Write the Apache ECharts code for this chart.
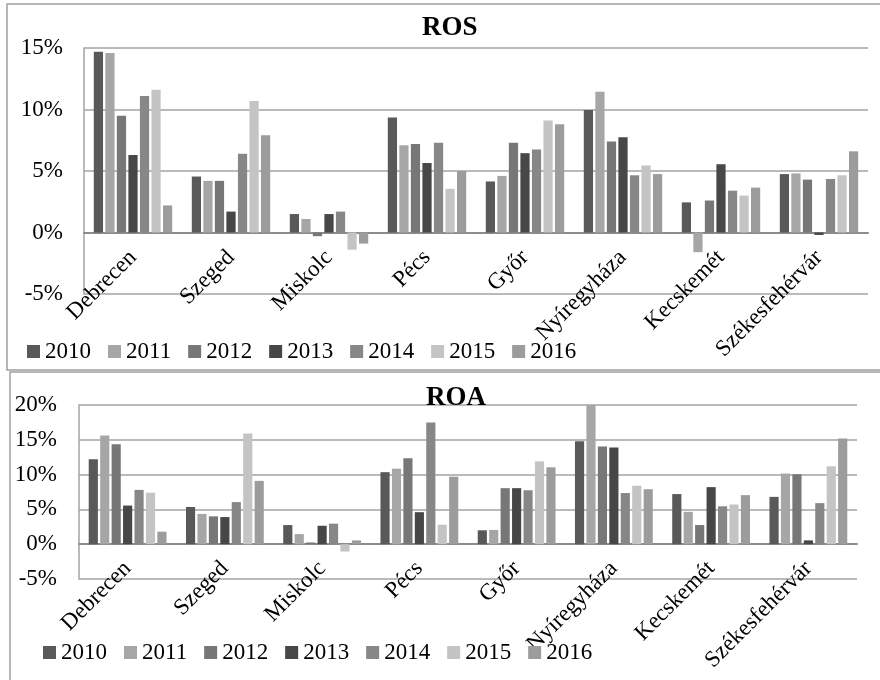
<!DOCTYPE html>
<html>
<head>
<meta charset="utf-8">
<script src="https://cdn.jsdelivr.net/npm/echarts@6/dist/echarts.min.js"></script>
<style>
html,body{margin:0;padding:0;background:#fff;}
#c{width:880px;height:680px;}
</style>
</head>
<body>
<div id="c"></div>
<script>
const categories = ['Debrecen','Szeged','Miskolc','Pécs','Győr','Nyíregyháza','Kecskemét','Székesfehérvár'];
const years = ['2010','2011','2012','2013','2014','2015','2016'];
const yearColors = ['#595959','#a6a6a6','#777777','#474747','#878787','#c4c4c4','#9c9c9c'];

// ROS values (%) per year, in category order
const ros2010 = [14.7, 4.55, 1.5, 9.35, 4.15, 9.95, 2.45, 4.75];
const ros2011 = [14.6, 4.2, 1.1, 7.1, 4.6, 11.45, -1.6, 4.8];
const ros2012 = [9.5, 4.2, -0.3, 7.2, 7.3, 7.4, 2.6, 4.3];
const ros2013 = [6.3, 1.7, 1.5, 5.65, 6.45, 7.75, 5.55, -0.2];
const ros2014 = [11.1, 6.4, 1.7, 7.3, 6.75, 4.65, 3.4, 4.35];
const ros2015 = [11.6, 10.7, -1.4, 3.55, 9.1, 5.45, 3.0, 4.65];
const ros2016 = [2.2, 7.9, -0.9, 5.0, 8.8, 4.75, 3.65, 6.6];

// ROA values (%) per year, in category order
const roa2010 = [12.2, 5.35, 2.75, 10.35, 2.0, 14.8, 7.2, 6.8];
const roa2011 = [15.6, 4.35, 1.45, 10.85, 2.05, 20.0, 4.65, 10.15];
const roa2012 = [14.35, 4.0, 0.25, 12.35, 8.05, 14.05, 2.75, 10.05];
const roa2013 = [5.55, 3.9, 2.65, 4.6, 8.05, 13.9, 8.2, 0.55];
const roa2014 = [7.8, 6.05, 2.95, 17.5, 7.75, 7.35, 5.45, 5.9];
const roa2015 = [7.4, 15.9, -1.05, 2.8, 11.9, 8.4, 5.7, 11.2];
const roa2016 = [1.8, 9.1, 0.55, 9.7, 11.05, 7.9, 7.05, 15.2];

const rosTicks = {min: -5, max: 15, interval: 5};
const roaTicks = {min: -5, max: 20, interval: 5};

const rosSeriesData = [ros2010, ros2011, ros2012, ros2013, ros2014, ros2015, ros2016];
const roaSeriesData = [roa2010, roa2011, roa2012, roa2013, roa2014, roa2015, roa2016];

const FONT = 'Liberation Serif';
const GRID_COLOR = '#a3a3a3';

function xAxisFor(gridIndex, labelMargin) {
  return {
    type: 'category', gridIndex: gridIndex, data: categories,
    axisLine: {show: true, onZero: true, lineStyle: {color: '#8c8c8c', width: 2}},
    axisTick: {show: false},
    axisLabel: {interval: 0, rotate: 45, margin: labelMargin, fontFamily: FONT, fontSize: 23, color: '#000'},
    splitLine: {show: false}
  };
}
function yAxisFor(gridIndex, t, margin) {
  return {
    type: 'value', gridIndex: gridIndex, min: t.min, max: t.max, interval: t.interval,
    axisLine: {show: true, lineStyle: {color: GRID_COLOR, width: 1.5}},
    axisTick: {show: false},
    axisLabel: {formatter: '{value}%', margin: margin, fontFamily: FONT, fontSize: 23, color: '#000'},
    splitLine: {show: true, lineStyle: {color: GRID_COLOR, width: 1.5}}
  };
}

const series = [];
years.forEach((y, i) => {
  series.push({
    name: y, type: 'bar', xAxisIndex: 0, yAxisIndex: 0, data: rosSeriesData[i],
    itemStyle: {color: yearColors[i]}, barGap: '25%', barCategoryGap: '20%'
  });
});
years.forEach((y, i) => {
  series.push({
    name: y, type: 'bar', xAxisIndex: 1, yAxisIndex: 1, data: roaSeriesData[i],
    itemStyle: {color: yearColors[i]}, barGap: '25%', barCategoryGap: '20%'
  });
});

const legendCommon = {
  data: years, icon: 'rect', itemWidth: 13, itemHeight: 13, itemGap: 17,
  textStyle: {fontFamily: FONT, fontSize: 23, color: '#000'}, selectedMode: false
};

const chart = echarts.init(document.getElementById('c'), null, {renderer: 'canvas'});
chart.setOption({
  animation: false,
  backgroundColor: '#fff',
  color: yearColors,
  title: [
    {text: 'ROS', left: 417, top: 10, textStyle: {fontFamily: FONT, fontWeight: 'bold', fontSize: 27, color: '#000'}},
    {text: 'ROA', left: 421, top: 380, textStyle: {fontFamily: FONT, fontWeight: 'bold', fontSize: 27, color: '#000'}}
  ],
  legend: [
    Object.assign({left: 22, top: 335}, legendCommon),
    Object.assign({left: 38, top: 636}, legendCommon)
  ],
  grid: [
    {left: 84, right: 12, top: 48, height: 246, containLabel: false, outerBoundsMode: 'none'},
    {left: 79, right: 23, top: 405, height: 174, containLabel: false, outerBoundsMode: 'none'}
  ],
  xAxis: [xAxisFor(0, -40), xAxisFor(1, -14)],
  yAxis: [yAxisFor(0, rosTicks, 21), yAxisFor(1, roaTicks, 22)],
  graphic: [
    {type: 'rect', shape: {x: 7, y: 4, width: 900, height: 366}, style: {fill: 'none', stroke: '#a0a0a0', lineWidth: 1.5}, silent: true, z: -10},
    {type: 'rect', shape: {x: 10, y: 372, width: 900, height: 400}, style: {fill: 'none', stroke: '#a0a0a0', lineWidth: 1.5}, silent: true, z: -10}
  ],
  series: series
});
</script>
</body>
</html>
